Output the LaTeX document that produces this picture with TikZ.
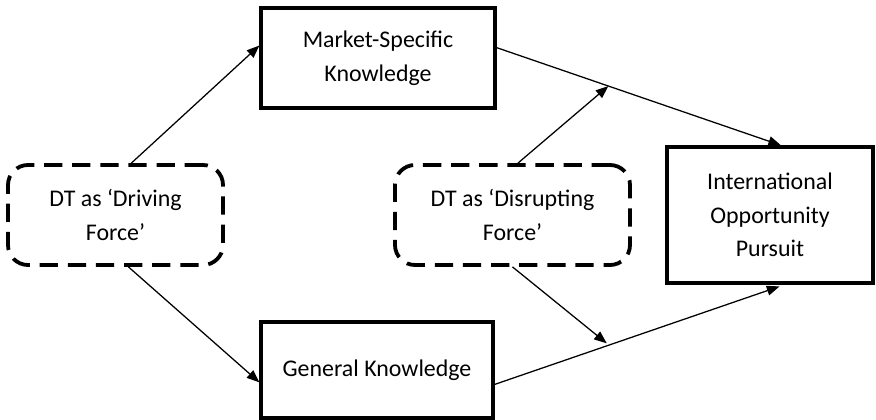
\documentclass[tikz,border=0pt]{standalone}
\usepackage{fontspec}
\setmainfont{Carlito}
\usetikzlibrary{arrows.meta}
\begin{document}
\begin{tikzpicture}[x=0.025cm, y=-0.025cm, >={Triangle[length=9pt,width=7pt]},
        box/.style={rectangle, draw, line width=2.3pt, align=center, font=\fontsize{17}{24}\selectfont},
        dbox/.style={rectangle, draw, line width=2.7pt, dash pattern=on 13pt off 7pt, rounded corners=0.5cm, align=center, font=\fontsize{17}{24}\selectfont}]
        \useasboundingbox (0, 0) rectangle (876, 420);
        \node[dbox, minimum width=215*0.025cm, minimum height=100*0.025cm] at (115.5, 215) (drive) {DT as ‘Driving\\Force’};
        \node[dbox, minimum width=235*0.025cm, minimum height=100*0.025cm] at (512.5, 215) (disrupt) {DT as ‘Disrupting\\Force’};
        \node[box, minimum width=234*0.025cm, minimum height=100*0.025cm] at (378, 58) (msk) {Market-Specific\\Knowledge};
        \node[box, minimum width=232*0.025cm, minimum height=96*0.025cm] at (377, 370) (gk) {General Knowledge};
        \node[box, minimum width=206*0.025cm, minimum height=136*0.025cm] at (770, 215) (iop) {International\\Opportunity\\Pursuit};
        \draw[->, line width=0.9pt]  (drive.73.8) -- (msk.174.6);
        \draw[->, line width=0.9pt]  (drive.284) -- (gk.186.4);
        \draw[->, line width=0.9pt]  (msk.5.4) -- coordinate[pos=0.393] (up) (iop.81.6);
        \draw[->, line width=0.9pt, shorten >=4pt]  (gk.353.6) -- coordinate[pos=0.394] (down) (iop.282.4);
        \draw[->, line width=0.9pt]  (disrupt.84.9) -- (up);
        \draw[->, line width=0.9pt, shorten >=2pt]  (disrupt.270.6) -- (down);
    \end{tikzpicture}
\end{document}
